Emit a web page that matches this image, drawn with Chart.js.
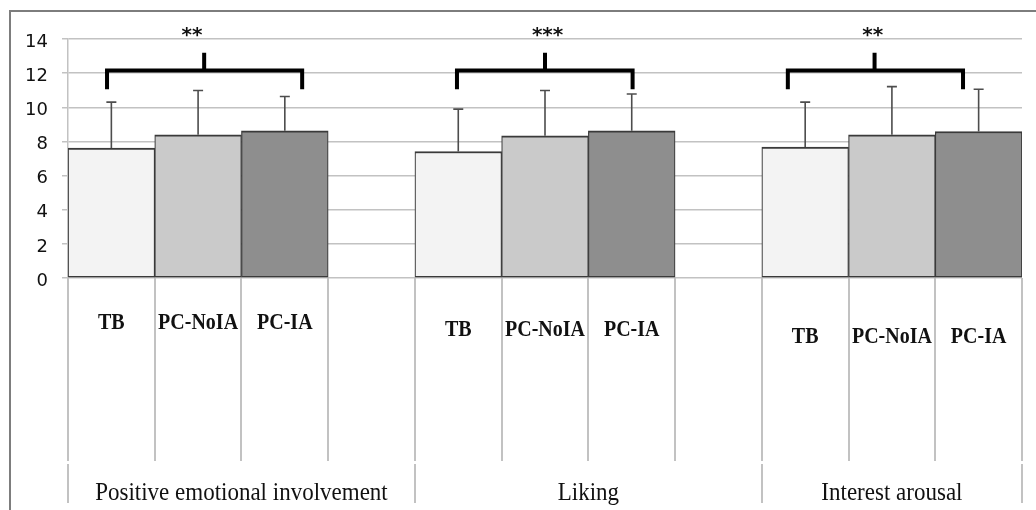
<!DOCTYPE html>
<html>
<head>
<meta charset="utf-8">
<script src="https://cdn.jsdelivr.net/npm/chart.js@4.4.0/dist/chart.umd.min.js"></script>
<style>
  body { margin: 0; background: #fff; }
  canvas { display: block; }
</style>
</head>
<body>
<canvas id="chart" width="1036" height="510"></canvas>
<script>
// values
const groups = ['Positive emotional involvement', 'Liking', 'Interest arousal'];
const conditions = ['TB', 'PC-NoIA', 'PC-IA'];
const meanTB = [7.61, 7.41, 7.67];
const meanNoIA = [8.39, 8.33, 8.39];
const meanIA = [8.62, 8.62, 8.58];
const sdTB = [2.69, 2.48, 2.63];
const sdNoIA = [2.59, 2.65, 2.82];
const sdIA = [2.01, 2.16, 2.48];
const stars = ['**', '***', '**'];
const yMin = 0, yMax = 14, yStep = 2;

const barColors = ['#f3f3f3', '#cacaca', '#8e8e8e'];
const gridColor = '#c2c2c2';

// build the 11 slots: 3 bars per group and one empty slot between groups
let slotLabels = [], slotValues = [], slotErrors = [], slotColors = [], groupStart = [];
for (let g = 0; g < groups.length; g++) {
    groupStart.push(slotValues.length);
    let means = [meanTB[g], meanNoIA[g], meanIA[g]];
    let sds = [sdTB[g], sdNoIA[g], sdIA[g]];
    for (let c = 0; c < conditions.length; c++) {
        slotLabels.push(conditions[c]);
        slotValues.push(means[c]);
        slotErrors.push(sds[c]);
        slotColors.push(barColors[c]);
    }
    if (g < groups.length - 1) {
        slotLabels.push('');
        slotValues.push(null);
        slotErrors.push(null);
        slotColors.push('#fff');
    }
}

// bracket shape per group, in slot units from the group's first bar
const bracketShape = [
    { from: -0.05, to: 2.2, tick: 1.07, star: 0.93 },
    { from: -0.015, to: 2.01, tick: 1.0, star: 1.03 },
    { from: -0.2, to: 1.82, tick: 0.8, star: 0.78 }
];
const bracketY = 12.15, bracketEndY = 11.06, bracketTickY = 13.2, starY = 14.4;
const labelTop = [323, 330, 337.5];

const extrasPlugin = {
    id: 'extras',
    beforeDraw(chart) {
        const ctx = chart.ctx;
        ctx.save();
        ctx.strokeStyle = '#7d7d7d';
        ctx.lineWidth = 2;
        ctx.beginPath();
        ctx.moveTo(10, 510);
        ctx.lineTo(10, 11);
        ctx.lineTo(1036, 11);
        ctx.stroke();
        ctx.restore();
    },
    afterDatasetsDraw(chart) {
        const ctx = chart.ctx;
        const y = chart.scales.y;
        const meta = chart.getDatasetMeta(0);
        ctx.save();
        ctx.strokeStyle = '#4d4d4d';
        ctx.lineWidth = 1.6;
        for (let i = 0; i < slotValues.length; i++) {
            if (slotValues[i] === null) continue;
            let bar = meta.data[i];
            let top = y.getPixelForValue(slotValues[i] + slotErrors[i]);
            ctx.beginPath();
            ctx.moveTo(bar.x, bar.y);
            ctx.lineTo(bar.x, top);
            ctx.moveTo(bar.x - 5, top);
            ctx.lineTo(bar.x + 5, top);
            ctx.stroke();
        }
        ctx.restore();
    },
    afterDraw(chart) {
        const ctx = chart.ctx;
        const x = chart.scales.x;
        const y = chart.scales.y;
        const area = chart.chartArea;
        const w = (area.right - area.left) / slotLabels.length;
        ctx.save();

        // table lines under the axis
        ctx.strokeStyle = gridColor;
        ctx.lineWidth = 2;
        let bounds = [0];
        groupStart.forEach((s, g) => { if (g > 0) bounds.push(s); });
        bounds.push(slotLabels.length);
        for (let i = 0; i <= slotLabels.length; i++) {
            let px = Math.round(area.left + w * i);
            ctx.beginPath();
            ctx.moveTo(px, area.bottom);
            ctx.lineTo(px, 461);
            if (bounds.includes(i)) {
                ctx.moveTo(px, 464);
                ctx.lineTo(px, 503);
            }
            ctx.stroke();
        }

        // condition labels
        ctx.fillStyle = '#111';
        ctx.textAlign = 'center';
        ctx.textBaseline = 'middle';
        ctx.font = 'bold 20px "Liberation Serif"';
        for (let g = 0; g < groups.length; g++) {
            for (let c = 0; c < conditions.length; c++) {
                let px = x.getPixelForValue(groupStart[g] + c);
                ctx.save();
                ctx.translate(px, labelTop[g]);
                ctx.scale(1, 1.15);
                ctx.fillText(conditions[c], 0, 0);
                ctx.restore();
            }
        }

        // group labels
        ctx.font = '23px "Liberation Serif"';
        ctx.textBaseline = 'alphabetic';
        for (let g = 0; g < groups.length; g++) {
            let left = area.left + w * bounds[g];
            let right = area.left + w * bounds[g + 1];
            ctx.save();
            ctx.translate((left + right) / 2, 500);
            ctx.scale(1, 1.1);
            ctx.fillText(groups[g], 0, 0);
            ctx.restore();
        }

        // significance brackets
        ctx.strokeStyle = '#000';
        ctx.lineWidth = 4;
        ctx.lineJoin = 'miter';
        ctx.fillStyle = '#111';
        ctx.font = 'bold 20px "DejaVu Sans"';
        for (let g = 0; g < groups.length; g++) {
            let b = bracketShape[g];
            let x0 = x.getPixelForValue(groupStart[g]) + b.from * w;
            let x1 = x.getPixelForValue(groupStart[g]) + b.to * w;
            let xt = x.getPixelForValue(groupStart[g]) + b.tick * w;
            let yb = y.getPixelForValue(bracketY);
            ctx.beginPath();
            ctx.moveTo(x0, y.getPixelForValue(bracketEndY));
            ctx.lineTo(x0, yb);
            ctx.lineTo(x1, yb);
            ctx.lineTo(x1, y.getPixelForValue(bracketEndY));
            ctx.moveTo(xt, yb);
            ctx.lineTo(xt, y.getPixelForValue(bracketTickY));
            ctx.stroke();
            let xs = x.getPixelForValue(groupStart[g]) + b.star * w;
            ctx.fillText(stars[g], xs, y.getPixelForValue(starY) + 9);
        }
        ctx.restore();
    }
};

const ctx = document.getElementById('chart').getContext('2d');
const chart = new Chart(ctx, {
    type: 'bar',
    data: {
        labels: slotLabels,
        datasets: [{
            data: slotValues,
            backgroundColor: slotColors,
            borderColor: '#3a3a3a',
            borderWidth: { top: 2, bottom: 1.5, left: 1.2, right: 1.2 },
            borderSkipped: false,
            barPercentage: 1,
            categoryPercentage: 1
        }]
    },
    options: {
        responsive: false,
        animation: false,
        layout: { padding: { top: 39, right: 14, left: 0, bottom: 0 } },
        plugins: {
            legend: { display: false },
            tooltip: { enabled: false }
        },
        scales: {
            x: {
                grid: { display: false },
                border: { display: false },
                ticks: { display: false },
                afterFit(scale) { scale.height = 232; }
            },
            y: {
                min: yMin,
                max: yMax,
                ticks: {
                    stepSize: yStep,
                    padding: 14,
                    labelOffset: 3,
                    color: '#111',
                    font: { family: 'DejaVu Sans', size: 18 }
                },
                grid: { color: gridColor, lineWidth: 1.5, tickLength: 6 },
                border: { display: true, color: gridColor, width: 1.5 },
                afterFit(scale) { scale.width = 68; }
            }
        }
    },
    plugins: [extrasPlugin]
});
</script>
</body>
</html>
